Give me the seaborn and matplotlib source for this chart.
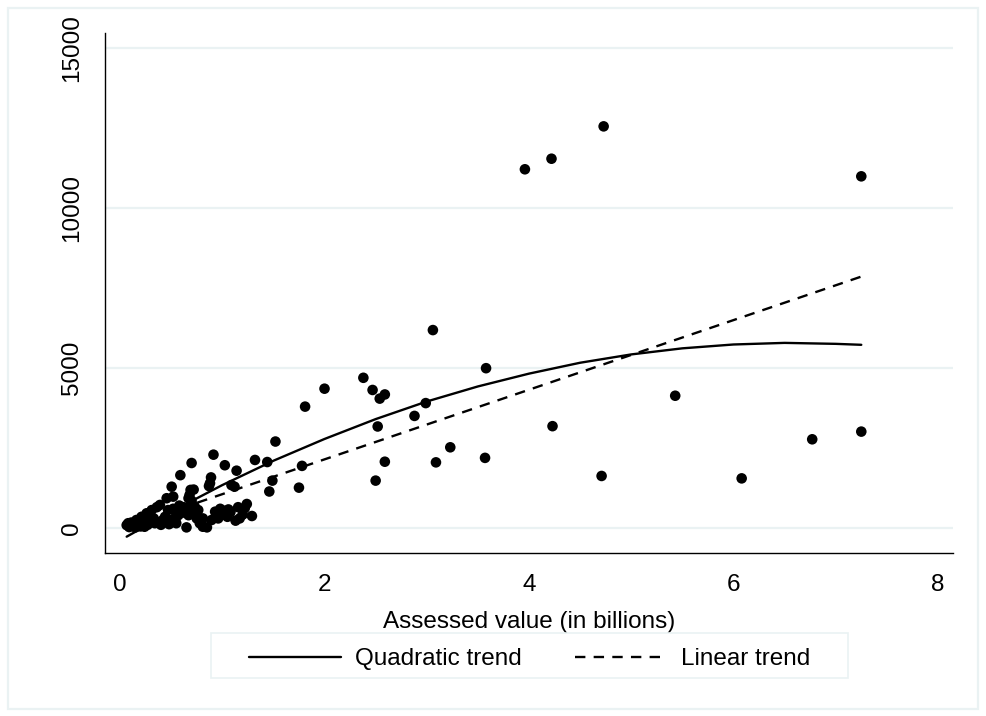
import matplotlib
matplotlib.use("Agg")
import matplotlib.pyplot as plt
import seaborn as sns
import pandas as pd
from matplotlib.patches import Rectangle

# assessed value (billions) and the y-variable
value_bn = [
    1.52, 1.44, 1.32, 1.49, 1.46, 1.75, 1.78, 1.81, 2.00, 2.38, 2.47, 2.54,
    2.59, 2.52, 2.50, 2.59, 2.88, 2.99, 3.06, 3.09, 3.23, 3.57, 3.58, 3.96,
    4.22, 4.73, 4.23, 4.71, 5.43, 6.08, 6.77, 7.25, 7.25,
    0.914, 0.70, 1.025, 1.14, 0.59, 0.89, 0.88, 0.87, 1.09, 1.12, 0.69, 0.72,
    0.505, 0.52, 0.67, 0.68, 0.66, 0.70, 0.73, 0.765, 0.93, 1.01, 1.06, 1.155,
    1.24, 1.29, 1.17, 1.13, 0.96, 0.895, 0.81, 0.81, 0.85, 0.65, 0.54, 0.60,
    0.62, 0.63, 0.57, 0.55, 0.50, 0.47, 0.456, 0.42, 0.39, 0.36, 0.34, 0.31,
    0.28, 0.26, 0.24, 0.23, 0.21, 0.19, 0.18, 0.16, 0.14, 0.13, 0.11, 0.09,
    0.065, 0.08, 0.15, 0.20, 0.27, 0.30, 0.33, 0.37, 0.40, 0.44, 0.48, 0.52,
    0.55, 0.58, 0.67, 0.74, 0.75, 0.78, 1.00, 1.05, 1.08, 1.20, 0.98, 1.22,
]
amount = [
    2700, 2060, 2125, 1480, 1140, 1260, 1940, 3790, 4350, 4690, 4310, 4040,
    4170, 3170, 1480, 2070, 3500, 3900, 6180, 2050, 2520, 2190, 4990, 11200,
    11530, 12540, 3180, 1625, 4130, 1550, 2770, 3010, 10980,
    2290, 2030, 1960, 1790, 1650, 1580, 1400, 1310, 1340, 1290, 1190, 1200,
    1290, 980, 930, 1030, 600, 850, 670, 560, 510, 540, 580, 650,
    750, 375, 300, 230, 300, 250, 300, 40, 20, 20, 200, 550,
    650, 480, 400, 150, 250, 560, 930, 250, 720, 650, 150, 560,
    420, 460, 40, 250, 350, 170, 90, 250, 120, 60, 170, 30,
    90, 150, 20, 50, 100, 200, 300, 180, 100, 350, 120, 600,
    450, 700, 400, 500, 300, 150, 420, 350, 500, 420, 600, 620,
]

# fitted trend lines as they appear in the picture
quad_x = [0.065, 0.5, 1, 1.5, 2, 2.5, 3, 3.5, 4, 4.5, 5, 5.5, 6, 6.5, 7, 7.25]
quad_y = [-270, 510, 1340, 2100, 2780, 3400, 3950, 4420, 4820, 5160, 5420,
          5610, 5730, 5780, 5750, 5720]
lin_x = [0.065, 7.25]
lin_y = [40, 7850]

x_ticks = [0, 2, 4, 6, 8]
y_ticks = [0, 5000, 10000, 15000]

sns.set_style("white")
plt.rcParams['font.family'] = ['Liberation Sans', 'DejaVu Sans']
plt.rcParams['text.color'] = 'black'
plt.rcParams['axes.labelcolor'] = 'black'

grid_col = '#EAF2F3'
fs = 17.5

fig = plt.figure(figsize=(9.86, 7.16), dpi=100)
ax = fig.add_axes([105 / 986, 1 - 553 / 716, 848 / 986, 520 / 716])

df = pd.DataFrame({'value': value_bn, 'amount': amount})
sns.scatterplot(data=df, x='value', y='amount', ax=ax, color='black',
                s=58, edgecolor='none', zorder=3)
sns.lineplot(x=quad_x, y=quad_y, ax=ax, color='black', lw=1.7,
             estimator=None, sort=False, label='Quadratic trend', zorder=4)
sns.lineplot(x=lin_x, y=lin_y, ax=ax, color='black', lw=1.7,
             estimator=None, sort=False, label='Linear trend', zorder=4,
             linestyle=(0, (4.4, 3.5)))

ax.set_xlim(-0.147, 8.147)
ax.set_ylim(-780, 15455)
ax.set_xticks(x_ticks)
ax.set_yticks(y_ticks)
ax.set_yticklabels([str(v) for v in y_ticks], rotation=90, va='center')
ax.tick_params(direction='out', length=7, width=1, colors='black',
               labelsize=fs)
ax.tick_params(axis='x', pad=8)
ax.tick_params(axis='y', pad=9)

ax.yaxis.grid(True, color=grid_col, lw=1.6)
ax.xaxis.grid(False)
ax.set_axisbelow(True)
for side in ['top', 'right']:
    ax.spines[side].set_visible(False)
for side in ['left', 'bottom']:
    ax.spines[side].set_color('black')
    ax.spines[side].set_linewidth(1)

ax.set_xlabel('Assessed value (in billions)', fontsize=fs, labelpad=11,
              color='black')
ax.set_ylabel('')

leg = ax.legend(loc='center', bbox_to_anchor=(529.5 / 986, 1 - 659 / 716),
                bbox_transform=fig.transFigure, ncol=2, frameon=False,
                fontsize=fs, handlelength=3.8, handletextpad=0.55,
                columnspacing=2.2)
for t in leg.get_texts():
    t.set_color('black')

# legend box and outer frame
fig.patches.append(Rectangle((211 / 986, 1 - 678 / 716), 637 / 986, 45 / 716,
                             transform=fig.transFigure, fill=False,
                             edgecolor=grid_col, lw=1.2))
fig.patches.append(Rectangle((8 / 986, 1 - 709 / 716), 970 / 986, 701 / 716,
                             transform=fig.transFigure, fill=False,
                             edgecolor=grid_col, lw=1.6))

fig.savefig('out.png', dpi=100)
